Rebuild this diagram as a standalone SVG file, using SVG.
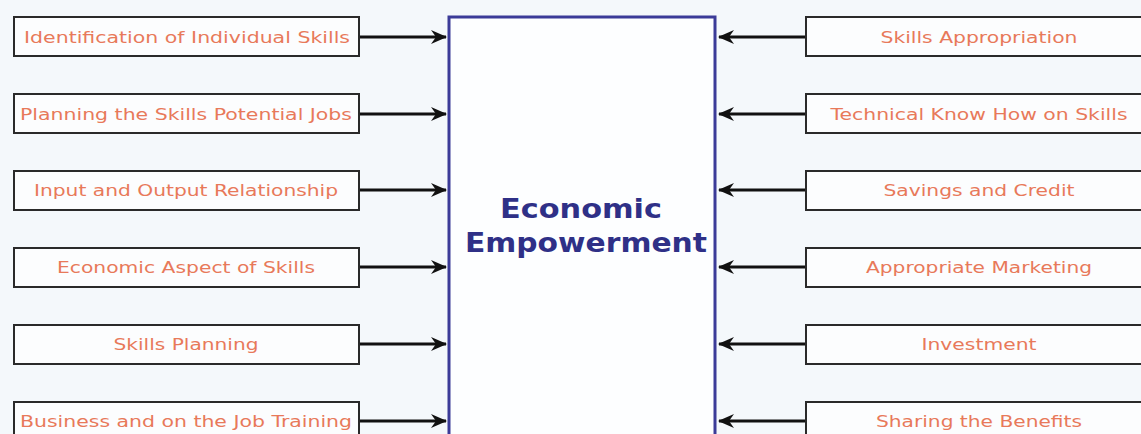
<svg xmlns="http://www.w3.org/2000/svg" width="1141" height="434" viewBox="0 0 1141 434">
<defs>
<style>
.box{fill:#fcfdfe;stroke:#2a2a2a;stroke-width:2}
.lbl{font-family:"DejaVu Sans",Verdana,sans-serif;font-size:16.5px;fill:#e8795a;text-anchor:middle}
.conn{stroke:#111;stroke-width:3;fill:none}
.ctr{font-family:"DejaVu Sans",Verdana,sans-serif;font-weight:bold;font-size:27px;fill:#2f3087;text-anchor:middle}
</style>
<marker id="ah" viewBox="0 0 16 14" refX="15" refY="7" markerWidth="16" markerHeight="14" markerUnits="userSpaceOnUse" orient="auto">
<path d="M0,0 L16,7 L0,14 L5,7 Z" fill="#111"/>
</marker>
</defs>
<rect width="1141" height="434" fill="#f4f8fb"/>
<g id="center">
<rect x="449" y="17" width="266" height="430" fill="#fdfeff" stroke="#3b3b98" stroke-width="3"/>
<text class="ctr" x="581" y="218" textLength="162" lengthAdjust="spacingAndGlyphs">Economic</text>
<text class="ctr" x="586" y="252" textLength="242" lengthAdjust="spacingAndGlyphs">Empowerment</text>
</g>
<g id="connectors">
<line class="conn" x1="359" y1="37" x2="446" y2="37" marker-end="url(#ah)"/>
<line class="conn" x1="359" y1="114" x2="446" y2="114" marker-end="url(#ah)"/>
<line class="conn" x1="359" y1="190" x2="446" y2="190" marker-end="url(#ah)"/>
<line class="conn" x1="359" y1="267" x2="446" y2="267" marker-end="url(#ah)"/>
<line class="conn" x1="359" y1="344" x2="446" y2="344" marker-end="url(#ah)"/>
<line class="conn" x1="359" y1="421" x2="446" y2="421" marker-end="url(#ah)"/>
<line class="conn" x1="806" y1="37" x2="719" y2="37" marker-end="url(#ah)"/>
<line class="conn" x1="806" y1="114" x2="719" y2="114" marker-end="url(#ah)"/>
<line class="conn" x1="806" y1="190" x2="719" y2="190" marker-end="url(#ah)"/>
<line class="conn" x1="806" y1="267" x2="719" y2="267" marker-end="url(#ah)"/>
<line class="conn" x1="806" y1="344" x2="719" y2="344" marker-end="url(#ah)"/>
<line class="conn" x1="806" y1="421" x2="719" y2="421" marker-end="url(#ah)"/>
</g>
<g id="l1"><rect class="box" x="14" y="17" width="345" height="39"/><text class="lbl" x="187" y="43" textLength="326" lengthAdjust="spacingAndGlyphs">Identification of Individual Skills</text></g>
<g id="l2"><rect class="box" x="14" y="94" width="345" height="39"/><text class="lbl" x="186" y="120" textLength="332" lengthAdjust="spacingAndGlyphs">Planning the Skills Potential Jobs</text></g>
<g id="l3"><rect class="box" x="14" y="171" width="345" height="39"/><text class="lbl" x="186" y="196" textLength="304" lengthAdjust="spacingAndGlyphs">Input and Output Relationship</text></g>
<g id="l4"><rect class="box" x="14" y="248" width="345" height="39"/><text class="lbl" x="186" y="273" textLength="258" lengthAdjust="spacingAndGlyphs">Economic Aspect of Skills</text></g>
<g id="l5"><rect class="box" x="14" y="325" width="345" height="39"/><text class="lbl" x="186" y="350" textLength="145" lengthAdjust="spacingAndGlyphs">Skills Planning</text></g>
<g id="l6"><rect class="box" x="14" y="402" width="345" height="39"/><text class="lbl" x="186" y="427" textLength="332" lengthAdjust="spacingAndGlyphs">Business and on the Job Training</text></g>
<g id="r1"><rect class="box" x="806" y="17" width="346" height="39"/><text class="lbl" x="979" y="43" textLength="197" lengthAdjust="spacingAndGlyphs">Skills Appropriation</text></g>
<g id="r2"><rect class="box" x="806" y="94" width="346" height="39"/><text class="lbl" x="979" y="120" textLength="297" lengthAdjust="spacingAndGlyphs">Technical Know How on Skills</text></g>
<g id="r3"><rect class="box" x="806" y="171" width="346" height="39"/><text class="lbl" x="979" y="196" textLength="191" lengthAdjust="spacingAndGlyphs">Savings and Credit</text></g>
<g id="r4"><rect class="box" x="806" y="248" width="346" height="39"/><text class="lbl" x="979" y="273" textLength="226" lengthAdjust="spacingAndGlyphs">Appropriate Marketing</text></g>
<g id="r5"><rect class="box" x="806" y="325" width="346" height="39"/><text class="lbl" x="979" y="350" textLength="115" lengthAdjust="spacingAndGlyphs">Investment</text></g>
<g id="r6"><rect class="box" x="806" y="402" width="346" height="39"/><text class="lbl" x="979" y="427" textLength="206" lengthAdjust="spacingAndGlyphs">Sharing the Benefits</text></g>
</svg>
